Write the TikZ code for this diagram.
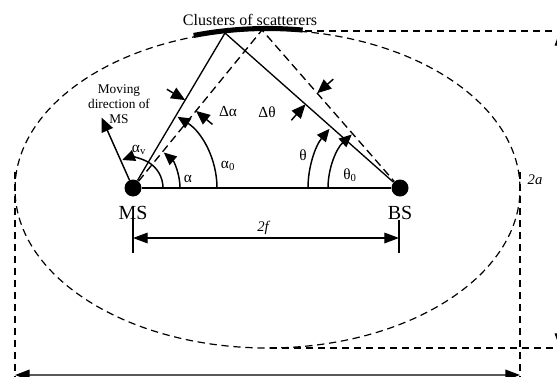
\documentclass[tikz,border=0pt]{standalone}
\usepackage{fontspec}
\setmainfont{Liberation Serif}
\usetikzlibrary{arrows.meta, calc, positioning}

\begin{document}
\begin{tikzpicture}[
  x=0.75pt, y=0.75pt,
  station/.style={circle, fill=black, inner sep=0pt, minimum size=12.75pt},
  ray/.style={line width=1pt},
  dray/.style={line width=1pt, dash pattern=on 6pt off 3.5pt},
  guide/.style={line width=0.9pt, dash pattern=on 5.5pt off 3.5pt},
  arcarr/.style={-{Triangle[length=9.5pt,width=8.5pt]}, line width=1.1pt},
  spread/.style={-{Triangle[length=10.5pt,width=9pt]}, line width=1.1pt},
  dimarr/.style={{Triangle[length=11pt,width=8pt,color=black]}-{Triangle[length=11pt,width=8pt,color=black]},
    line width=0.9pt},
  lbl/.style={font=\fontsize{11.5}{12}\selectfont, inner sep=1pt},
  big/.style={font=\fontsize{15}{16}\selectfont, inner sep=0pt}
]
  \useasboundingbox (0,0) rectangle (557,376);
  \clip (0,0) rectangle (557,376);
  % Stations and scattering points
  \node[station] (MS) at (133,188) {};
  \node[station] (BS) at (400,188) {};
  \coordinate (P1) at (225,343);
  \coordinate (P0) at (262,346);
  \coordinate (V) at ($(MS.center)+(114:77)$);
  % Ellipse and cluster
  \draw[guide] (267.5,187) ellipse [x radius=252.5, y radius=159];
  \draw[line width=3.8pt] (267.5,188.5) ++(82:252.5 and 159)
    arc [start angle=82, end angle=107, x radius=252.5, y radius=159];
  \node[font=\fontsize{12}{13}\selectfont, inner sep=0pt] (CL) at (250,356)
    {Clusters of scatterers};
  % Paths
  \draw[ray] (MS) -- (BS);
  \draw[ray] (MS) -- (P1) -- (BS);
  \draw[dray] (MS) -- (P0) -- (BS);
  \draw[spread] (MS) -- (V);
  % Angles at MS
  \draw[arcarr] ([shift={(0:30)}]MS.center) arc [start angle=0, end angle=111, radius=30];
  \draw[arcarr] ([shift={(0:47)}]MS.center) arc [start angle=0, end angle=49, radius=47];
  \draw[arcarr] ([shift={(0:84)}]MS.center) arc [start angle=0, end angle=58, radius=84];
  % Angles at BS
  \draw[arcarr] ([shift={(180:92)}]BS.center) arc [start angle=180, end angle=140, radius=92];
  \draw[arcarr] ([shift={(180:72)}]BS.center) arc [start angle=180, end angle=132, radius=72];
  % Spreads
  \coordinate (TA1) at ($(MS.center)!0.567!(P1)$);
  \coordinate (TA2) at ($(MS.center)!0.488!(P0)$);
  \coordinate (TB1) at ($(BS.center)!0.60!(P0)$);
  \coordinate (TB2) at ($(BS.center)!0.54!(P1)$);
  \coordinate (SA1) at ($(TA1)!16pt!90:(P1)$);
  \coordinate (SA2) at ($(TA2)!16pt!-90:(P0)$);
  \coordinate (SB1) at ($(TB1)!16pt!-90:(P0)$);
  \coordinate (SB2) at ($(TB2)!16pt!90:(P1)$);
  \draw[spread] (SA1) -- (TA1);
  \draw[spread] (SA2) -- (TA2);
  \draw[spread] (SB1) -- (TB1);
  \draw[spread] (SB2) -- (TB2);
  % Labels
  \node[big, below=7pt of MS] (MSl) {MS};
  \node[big, below=7pt of BS] (BSl) {BS};
  \node[font=\fontsize{10}{11.25}\selectfont, align=center, inner sep=0pt] (MV) at (119,272)
    {Moving\\direction of\\MS};
  \node[lbl] (lav) at (139,226) {α\textsubscript{v}};
  \node[lbl] (la) at (188,197) {α};
  \node[lbl] (la0) at (228,210) {α\textsubscript{0}};
  \node[lbl] (lda) at (228,264) {Δα};
  \node[lbl] (ldt) at (267,264) {Δθ};
  \node[lbl] (lt) at (303,221) {θ};
  \node[lbl] (lt0) at (350,201) {θ\textsubscript{0}};
  % Dimensions
  \coordinate (F1a) at (133,159);
  \coordinate (F1b) at (133,123);
  \coordinate (F2a) at (399,156);
  \coordinate (F2b) at (399,123);
  \coordinate (F1) at (133,138);
  \coordinate (F2) at (399,138);
  \draw[ray] (F1a) -- (F1b);
  \draw[ray] (F2a) -- (F2b);
  \draw[dimarr] (F1) -- (F2);
  \node[lbl, font=\fontsize{11}{12}\selectfont\itshape] (l2f) at (263,148) {2f};
  \coordinate (G1) at (305,345);
  \coordinate (G2) at (562,345);
  \coordinate (G3) at (270,28);
  \coordinate (G4) at (562,28);
  \coordinate (G5) at (15,204);
  \coordinate (G6) at (15,-2);
  \coordinate (G7) at (520,204);
  \coordinate (G8) at (520,-2);
  \draw[guide] (G1) -- (G2);
  \draw[guide] (G3) -- (G4);
  \draw[guide] (G5) -- (G6);
  \draw[guide] (G7) -- (G8);
  \coordinate (A1) at (560,345);
  \coordinate (A2) at (560,28);
  \draw[dimarr] (A1) -- (A2);
  \node[lbl, font=\fontsize{11}{12}\selectfont\itshape] (l2a) at (535,196) {2a};
  \coordinate (B1) at (15,1);
  \coordinate (B2) at (520,1);
  \draw[dimarr, draw=black!65, line width=1.2pt] (B1) -- (B2);
\end{tikzpicture}
\end{document}
